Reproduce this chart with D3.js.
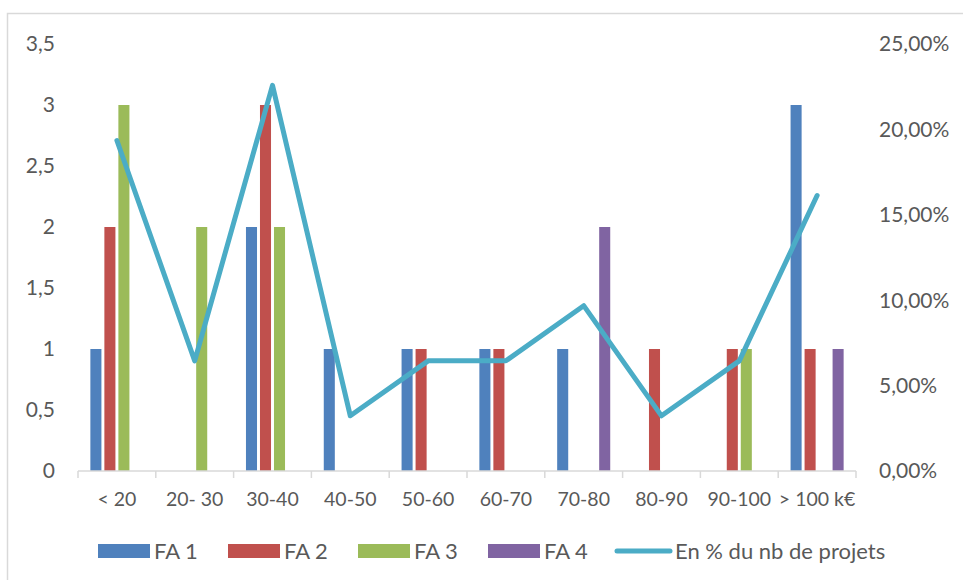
<!DOCTYPE html>
<html><head><meta charset="utf-8">
<script src="https://cdn.jsdelivr.net/npm/d3@7"></script>
<style>body{margin:0;background:#fff;} svg{display:block;font-family:Lato,"Open Sans",sans-serif;}</style>
</head><body>
<svg id="c" width="963" height="580"></svg>
<script>
const categories = ["< 20","20- 30","30-40","40-50","50-60","60-70","70-80","80-90","90-100","> 100 k€"];
const seriesNames = ["FA 1","FA 2","FA 3","FA 4"];
const fa1 = [1,0,2,1,1,1,1,0,0,3];
const fa2 = [2,0,3,0,1,1,0,1,1,1];
const fa3 = [3,2,2,0,0,0,0,0,1,0];
const fa4 = [0,0,0,0,0,0,2,0,0,1];
const pctProjets = [0.1935,0.0645,0.2258,0.0323,0.0645,0.0645,0.0968,0.0323,0.0645,0.1613];
const lineName = "En % du nb de projets";
const leftTicks = [0,0.5,1,1.5,2,2.5,3,3.5];
const rightTicks = [0,0.05,0.10,0.15,0.20,0.25];
const colors = ["#4F81BD","#C0504D","#9BBB59","#8064A2"];
const lineColor = "#4BACC6";

const svg = d3.select("#c");
const L=78, R=856, T=44, B=471;
const txt="#595959";
const fsY=21, fsX=19.5, fsLg=22;

// outer frame
svg.append("rect").attr("x",7.5).attr("y",13.5).attr("width",1000).attr("height",600)
  .attr("fill","none").attr("stroke","#d9d9d9").attr("stroke-width",1.5);

const x = d3.scaleBand().domain(categories).range([L,R]).padding(0);
const yL = d3.scaleLinear().domain([0,3.5]).range([B,T]);
const yR = d3.scaleLinear().domain([0,0.25]).range([B,T]);

const bw = x.bandwidth();
const barW = bw*0.142, gap = bw*0.038;
const groupW = 4*barW+3*gap;
const data = [fa1,fa2,fa3,fa4];

// left axis labels
const fmtL = d => d3.format(".1~f")(d).replace(".",",");
svg.append("g").selectAll("text").data(leftTicks).join("text")
  .attr("x",55).attr("y",d=>yL(d)).attr("dy","0.35em").attr("text-anchor","end")
  .attr("fill",txt).attr("font-size",fsY).text(fmtL);
// right axis labels
const fmtR = d => d3.format(".2f")(d*100).replace(".",",")+"%";
svg.append("g").selectAll("text").data(rightTicks).join("text")
  .attr("x",879).attr("y",d=>yR(d)).attr("dy","0.35em").attr("text-anchor","start")
  .attr("fill",txt).attr("font-size",fsY).text(fmtR);

// bars
data.forEach((vals,si)=>{
  svg.append("g").selectAll("rect").data(vals.map((v,i)=>({v,c:categories[i]})).filter(d=>d.v>0)).join("rect")
    .attr("x",d=>x(d.c)+bw/2-groupW/2+si*(barW+gap))
    .attr("y",d=>yL(d.v)).attr("width",barW).attr("height",d=>B-yL(d.v))
    .attr("fill",colors[si]);
});

// x axis
const xa = svg.append("g").attr("transform",`translate(0,${B})`);
xa.append("line").attr("x1",L).attr("x2",R).attr("stroke","#d9d9d9").attr("stroke-width",1.5);
const bounds = categories.map(c=>x(c)).concat([R]);
xa.selectAll("line.t").data(bounds).join("line").attr("class","t")
  .attr("x1",d=>d).attr("x2",d=>d).attr("y1",0).attr("y2",7).attr("stroke","#d9d9d9").attr("stroke-width",1.5);
xa.selectAll("text").data(categories).join("text")
  .attr("x",d=>x(d)+bw/2).attr("y",35).attr("text-anchor","middle")
  .attr("fill",txt).attr("font-size",fsX).text(d=>d);

// line
const line = d3.line().x((d,i)=>x(categories[i])+bw/2).y(d=>yR(d));
svg.append("path").datum(pctProjets).attr("d",line).attr("fill","none")
  .attr("stroke",lineColor).attr("stroke-width",5).attr("stroke-linejoin","round").attr("stroke-linecap","round");

// legend
const lg = svg.append("g");
const sw = [98,228,358,488];
seriesNames.forEach((n,i)=>{
  lg.append("rect").attr("x",sw[i]).attr("y",544).attr("width",52).attr("height",14).attr("fill",colors[i]);
  lg.append("text").attr("x",sw[i]+56).attr("y",551).attr("dy","0.35em").attr("fill",txt).attr("font-size",fsLg).text(n);
});
lg.append("line").attr("x1",617).attr("x2",670).attr("y1",551).attr("y2",551)
  .attr("stroke",lineColor).attr("stroke-width",5).attr("stroke-linecap","round");
lg.append("text").attr("x",675).attr("y",551).attr("dy","0.35em").attr("fill",txt).attr("font-size",fsLg).text(lineName);
</script>
</body></html>
